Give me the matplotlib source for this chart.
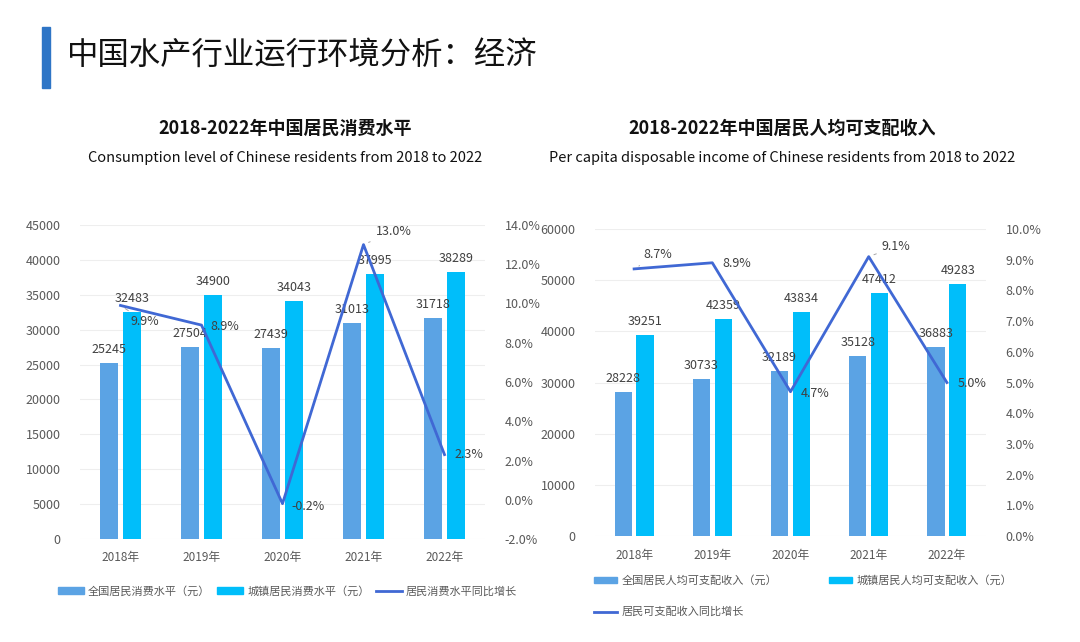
import matplotlib
matplotlib.use("Agg")
import matplotlib.pyplot as plt
import numpy as np
from matplotlib.ticker import FuncFormatter, MultipleLocator
from matplotlib.patches import Patch
from matplotlib.lines import Line2D

plt.rcParams['font.family'] = ['Noto Sans CJK SC', 'DejaVu Sans']

years = ["2018年", "2019年", "2020年", "2021年", "2022年"]

# left chart: consumption level
cons_all = [25245, 27504, 27439, 31013, 31718]
cons_urban = [32483, 34900, 34043, 37995, 38289]
cons_growth = [9.9, 8.9, -0.2, 13.0, 2.3]

# right chart: disposable income
inc_all = [28228, 30733, 32189, 35128, 36883]
inc_urban = [39251, 42359, 43834, 47412, 49283]
inc_growth = [8.7, 8.9, 4.7, 9.1, 5.0]

c_dark = "#5BA3E4"
c_light = "#00BEFA"
c_line = "#4068D4"
c_tick = "#595959"
c_lab = "#404040"

fig = plt.figure(figsize=(10.8, 6.42), dpi=100)

# header
fig.patches.append(plt.Rectangle((42/1080, 1-88/642), 8/1080, 61/642,
                                 transform=fig.transFigure, color="#2E75C6"))
fig.text(67/1080, 1-55/642, "中国水产行业运行环境分析：经济", fontsize=22.6,
         va="center", ha="left", color="#111111")


def draw(rect, a, b, g, ylim, ystep, rlim, rstep, title, sub, center,
         g_offsets, g_leaders):
    ax = fig.add_axes(rect)
    x = np.arange(len(years))
    w = 0.22
    ax.bar(x - 0.14, a, w, color=c_dark, zorder=2)
    ax.bar(x + 0.14, b, w, color=c_light, zorder=2)
    for xi, v in zip(x, a):
        ax.annotate(str(v), (xi - 0.14, v), xytext=(0, 7), textcoords="offset pixels",
                    ha="center", va="bottom", fontsize=9, color=c_lab, zorder=5)
    for xi, v in zip(x, b):
        ax.annotate(str(v), (xi + 0.14, v), xytext=(0, 7), textcoords="offset pixels",
                    ha="center", va="bottom", fontsize=9, color=c_lab, zorder=5)
    ax.set_ylim(*ylim)
    ax.set_xlim(-0.5, len(years) - 0.5)
    ax.yaxis.set_major_locator(MultipleLocator(ystep))
    ax.grid(axis="y", color="#EEEEEE", lw=0.8, zorder=0)
    ax.set_xticks(x)
    ax.set_xticklabels(years, fontsize=8.5, color=c_tick)
    ax.tick_params(axis="both", length=0, labelsize=9, labelcolor=c_tick)
    ax.tick_params(axis="x", pad=9, labelsize=8.5)
    ax.tick_params(axis="y", pad=14)
    for s in ax.spines.values():
        s.set_visible(False)

    ax2 = ax.twinx()
    ax2.plot(x, g, color=c_line, lw=2, zorder=4)
    ax2.set_ylim(*rlim)
    ax2.yaxis.set_major_locator(MultipleLocator(rstep))
    ax2.yaxis.set_major_formatter(FuncFormatter(lambda v, p: "%.1f%%" % v))
    ax2.tick_params(axis="y", length=0, labelsize=9, labelcolor=c_tick, pad=14)
    for s in ax2.spines.values():
        s.set_visible(False)
    for xi, v, off, ld in zip(x, g, g_offsets, g_leaders):
        kw = {}
        if ld:
            kw["arrowprops"] = dict(arrowstyle="-", color="#A6A6A6", lw=0.7,
                                    shrinkA=2, shrinkB=4)
        ax2.annotate("%.1f%%" % v, (xi, v), xytext=off, textcoords="offset pixels",
                     ha="left", va="center", fontsize=9, color=c_lab, zorder=6, **kw)

    fig.text(center, 1-128/642, title, fontsize=13, fontweight="bold",
             ha="center", va="center", color="#111111")
    fig.text(center, 1-158/642, sub, fontsize=10.5, ha="center", va="center",
             color="#111111")
    return ax, ax2


axL, axL2 = draw([80/1080, 1-539/642, 405/1080, 314/642], cons_all, cons_urban,
                 cons_growth, (0, 45000), 5000, (-2, 14), 2,
                 "2018-2022年中国居民消费水平",
                 "Consumption level of Chinese residents from 2018 to 2022",
                 285/1080,
                 [(10, -16), (9, -1), (9, -3), (12, 13), (10, 0)],
                 [True, False, False, True, False])

axR, axR2 = draw([595/1080, 1-536/642, 391/1080, 307/642], inc_all, inc_urban,
                 inc_growth, (0, 60000), 10000, (0, 10), 1,
                 "2018-2022年中国居民人均可支配收入",
                 "Per capita disposable income of Chinese residents from 2018 to 2022",
                 782/1080,
                 [(9, 14), (10, -1), (10, -2), (13, 10), (11, -1)],
                 [True, False, False, True, False])

hL = [Patch(color=c_dark), Patch(color=c_light), Line2D([], [], color=c_line, lw=2)]
fig.legend(hL, ["全国居民消费水平（元）", "城镇居民消费水平（元）", "居民消费水平同比增长"],
           loc="center left", bbox_to_anchor=(48/1080, 1-591/642), ncol=3,
           frameon=False, fontsize=8, handlelength=2.3, handleheight=0.5,
           handletextpad=0.4, columnspacing=0.6, labelcolor=c_tick)

# column-major fill: dark + line in col 1, light in col 2
hR = [Patch(color=c_dark), Line2D([], [], color=c_line, lw=2), Patch(color=c_light)]
fig.legend(hR, ["全国居民人均可支配收入（元）", "居民可支配收入同比增长", "城镇居民人均可支配收入（元）"],
           loc="upper left", bbox_to_anchor=(584/1080, 1-565/642), ncol=2,
           frameon=False, fontsize=8, handlelength=2.1, handleheight=0.5,
           handletextpad=0.4, columnspacing=4.6, labelspacing=1.9,
           labelcolor=c_tick)

fig.savefig("out.png", dpi=100)
